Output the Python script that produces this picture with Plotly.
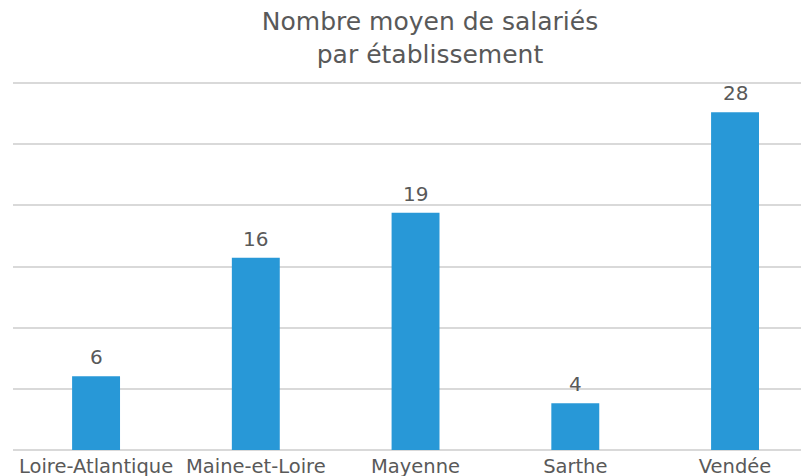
import plotly.graph_objects as go

categories = ["Loire-Atlantique", "Maine-et-Loire", "Mayenne", "Sarthe", "Vendée"]
values = [6.03, 15.73, 19.4, 3.83, 27.63]
labels = ["6", "16", "19", "4", "28"]

FONT = "'DejaVu Sans', sans-serif"
GREY = "#595959"

# the page body adds an 8px offset; compensate in figure size/margins
OFF = 8
W, H = 809 - OFF, 476 - OFF

fig = go.Figure(go.Bar(
    x=categories,
    y=values,
    marker=dict(color="#2898D7", line=dict(width=0)),
    width=0.3,
))

for c, v, t in zip(categories, values, labels):
    fig.add_annotation(
        x=c, y=v, text=t, showarrow=False,
        xanchor="center", yanchor="bottom", yshift=5,
        font=dict(size=20, color=GREY, family=FONT),
    )

fig.update_layout(
    width=W, height=H,
    margin=dict(l=13 - OFF, r=0, t=82 - OFF, b=26, autoexpand=False),
    paper_bgcolor="white", plot_bgcolor="white",
    title=dict(
        text="Nombre moyen de salariés<br>par établissement",
        x=(430 - OFF) / W, xanchor="center",
        yref="container", y=1 - 22 / H, yanchor="top",
        font=dict(size=25, color=GREY, family=FONT),
    ),
    showlegend=False,
    font=dict(family=FONT, color=GREY),
)
fig.update_xaxes(
    range=[-0.52, 4.463], automargin=False,
    showgrid=False, showline=False, zeroline=False,
    ticks="", tickfont=dict(size=19.5, color=GREY, family=FONT),
    ticklabelstandoff=2,
)
fig.update_yaxes(
    range=[0, 30.1], dtick=5, automargin=False,
    showgrid=True, gridcolor="#D9D9D9", gridwidth=1.5,
    zeroline=True, zerolinecolor="#D9D9D9", zerolinewidth=1.5,
    showticklabels=False, ticks="",
)

fig.write_html("out.html")
